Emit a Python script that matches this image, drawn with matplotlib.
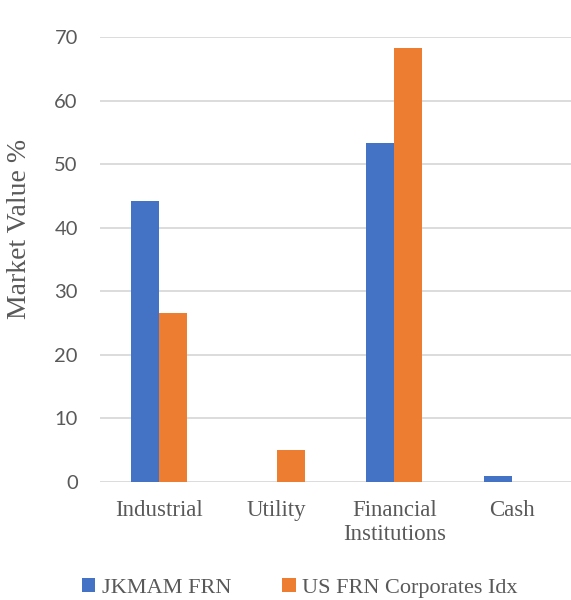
import matplotlib.pyplot as plt
import numpy as np

categories = ["Industrial", "Utility", "Financial\nInstitutions", "Cash"]
jkmam_frn = [44.2, 0.0, 53.3, 1.0]
us_frn_idx = [26.6, 5.1, 68.3, 0.0]
series_names = ["JKMAM FRN", "US FRN Corporates Idx"]

blue = "#4472C4"
orange = "#ED7D31"
grid_col = "#D9D9D9"
text_col = "#595959"

fig = plt.figure(figsize=(5.71, 6.0), dpi=100)
ax = fig.add_axes([100 / 571, 118 / 600, 471 / 571, 445 / 600])

x = np.arange(len(categories))
width = 0.237
ax.bar(x - width / 2, jkmam_frn, width, color=blue, label=series_names[0], zorder=3)
ax.bar(x + width / 2, us_frn_idx, width, color=orange, label=series_names[1], zorder=3)

ax.set_xlim(-0.5, len(categories) - 0.5)
ax.set_ylim(0, 70)
ax.set_yticks(range(0, 71, 10))
ax.yaxis.grid(True, color=grid_col, linewidth=1.3, zorder=0)
for s in ax.spines.values():
    s.set_visible(False)
ax.tick_params(axis="both", length=0)
ax.tick_params(axis="y", pad=16, labelsize=14.5, labelcolor=text_col)
for lab in ax.get_yticklabels():
    lab.set_fontfamily("Lato")

ax.set_xticks(x)
ax.set_xticklabels(categories, fontsize=16.5, color=text_col,
                   fontfamily="Liberation Serif", linespacing=1.2)
ax.tick_params(axis="x", pad=13)

fig.text(20 / 571, 1 - 229 / 600, "Market Value %", rotation=90, ha="center", va="center",
         fontsize=20, color=text_col, fontfamily="Liberation Serif")

fig.legend(loc="center", bbox_to_anchor=(300 / 571, 12 / 600), ncol=2, frameon=False,
           prop={"family": "Liberation Serif", "size": 16}, labelcolor=text_col,
           handlelength=0.6, handleheight=0.6, handletextpad=0.3, columnspacing=2.3)

fig.savefig("out.png", dpi=100)
